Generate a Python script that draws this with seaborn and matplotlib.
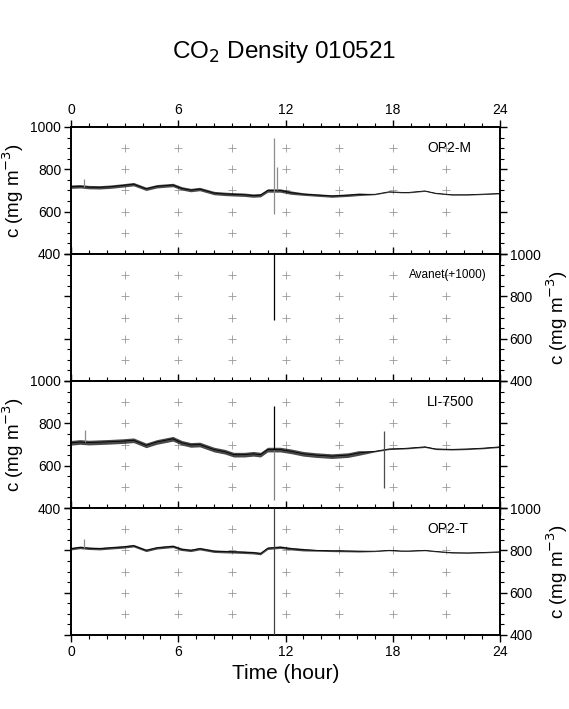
import matplotlib
matplotlib.use("Agg")
from matplotlib import pyplot as plt
from matplotlib.ticker import MultipleLocator
import pandas as pd
import seaborn as sns

# hours of the readings
hours = [0, 0.5, 1, 1.6, 2.2, 2.9, 3.5, 4.2, 4.8, 5.7, 6.2, 6.7, 7.2, 8.0, 8.6,
         9.1, 9.7, 10.2, 10.6, 11.0, 11.7, 12.3, 13.0, 13.7, 14.6, 15.5, 16.1,
         17.0, 17.8, 18.5, 18.9, 19.8, 20.4, 21.3, 22.2, 23.1, 24]

op2m = [718, 720, 716, 715, 718, 724, 730, 708, 720, 726, 710, 702, 707, 688, 684,
        682, 680, 676, 678, 700, 700, 690, 683, 679, 674, 678, 682,
        682, 694, 691, 691, 698, 687, 680, 680, 683, 686]
op2m_noise = [8] * 22 + [6] * 5 + [2] * 10

li7500 = [708, 712, 709, 711, 713, 716, 720, 696, 712, 727, 708, 698, 700, 676, 666,
          652, 652, 656, 652, 676, 676, 668, 656, 650, 645, 650, 660,
          668, 679, 681, 683, 689, 679, 677, 679, 683, 689]
li7500_noise = [11] * 27 + [3] * 10

op2t = [808, 814, 810, 808, 812, 816, 822, 800, 812, 819, 805, 800, 808, 796, 794,
        793, 791, 789, 785, 810, 815, 808, 803, 800, 798, 797, 796,
        796, 800, 797, 797, 800, 795, 789, 788, 790, 793]
op2t_noise = [6] * 23 + [4] * 4 + [2] * 10

# spikes: hour, low, high
op2m_spk_hour = [0.7, 11.38, 11.5]
op2m_spk_low = [715, 590, 700]
op2m_spk_high = [755, 950, 810]

avanet_spk_hour = [11.38]
avanet_spk_low = [690]
avanet_spk_high = [1000]

li_spk_hour = [0.8, 11.38, 11.38, 17.5]
li_spk_low = [710, 676, 439, 495]
li_spk_high = [770, 882, 676, 763]

op2t_spk_hour = [0.7, 11.38]
op2t_spk_low = [810, 400]
op2t_spk_high = [855, 1000]

panel_names = ["OP2-M", "Avanet(+1000)", "LI-7500", "OP2-T"]

sns.set_style("ticks")
plt.rcParams["font.family"] = ["Liberation Sans", "DejaVu Sans"]
plt.rcParams["axes.linewidth"] = 1.4
for key in ["text.color", "axes.labelcolor", "xtick.color", "ytick.color", "axes.edgecolor"]:
    plt.rcParams[key] = "black"

fig = plt.figure(figsize=(5.69, 7.09), dpi=100)
left, width = 71 / 569, 429 / 569
ph = 127 / 709
top = 1 - 127 / 709

series = [
    (op2m, op2m_noise, op2m_spk_hour, op2m_spk_low, op2m_spk_high, ["0.55", "0.55", "0.55"]),
    (None, None, avanet_spk_hour, avanet_spk_low, avanet_spk_high, ["black"]),
    (li7500, li7500_noise, li_spk_hour, li_spk_low, li_spk_high, ["0.55", "black", "0.5", "0.3"]),
    (op2t, op2t_noise, op2t_spk_hour, op2t_spk_low, op2t_spk_high, ["0.55", "0.25"]),
]

grid_x = [3, 6, 9, 12, 15, 18, 21]
grid_y = [500, 600, 700, 800, 900]
gx = [x for x in grid_x for _ in grid_y]
gy = [y for _ in grid_x for y in grid_y]

for i, (vals, noise, sh, slo, shi, scol) in enumerate(series):
    ax = fig.add_axes([left, top - (i + 1) * ph, width, ph])
    sns.scatterplot(x=gx, y=gy, marker="+", s=40, color="0.6", linewidth=0.6, ax=ax, zorder=1)
    if vals is not None:
        df = pd.DataFrame({"hour": hours, "c": vals, "n": noise})
        ax.fill_between(df["hour"], df["c"] - df["n"], df["c"] + df["n"],
                        color="0.1", alpha=0.8, linewidth=0, zorder=2)
        sns.lineplot(data=df, x="hour", y="c", color="black", linewidth=0.6, ax=ax, zorder=3)
    ax.vlines(sh, slo, shi, colors=scol, linewidth=0.9, zorder=4)

    ax.set_xlim(0, 24)
    ax.set_ylim(400, 1000)
    ax.set_xticks([0, 6, 12, 18, 24])
    ax.xaxis.set_minor_locator(MultipleLocator(1))
    ax.set_yticks([400, 600, 800, 1000])
    ax.yaxis.set_minor_locator(MultipleLocator(50))
    ax.tick_params(axis="both", which="major", direction="out", length=5, width=1,
                   labelsize=10, pad=2)
    ax.tick_params(axis="both", which="minor", direction="out", length=3, width=0.8)
    ax.tick_params(axis="x", which="both", top=True, bottom=True,
                   labeltop=(i == 0), labelbottom=(i == 3))
    right_side = i in (1, 3)
    ax.tick_params(axis="y", which="both", left=True, right=True,
                   labelleft=not right_side, labelright=right_side)
    for s in ax.spines.values():
        s.set_visible(True)
        s.set_linewidth(1.4)

    ax.set_xlabel("Time (hour)" if i == 3 else "", fontsize=15, labelpad=4)
    ax.set_ylabel("c (mg m$^{-3}$)", fontsize=13.5, labelpad=3)
    if right_side:
        ax.yaxis.set_label_position("right")

    ax.text(0.788 if i == 1 else 0.83, 0.835, panel_names[i], transform=ax.transAxes,
            ha="left", va="center", fontsize=8.5 if i == 1 else 10)

fig.suptitle("CO$_2$ Density 010521", x=0.5, y=0.945, fontsize=17.5)

plt.savefig("out.png", dpi=100)
plt.close()
